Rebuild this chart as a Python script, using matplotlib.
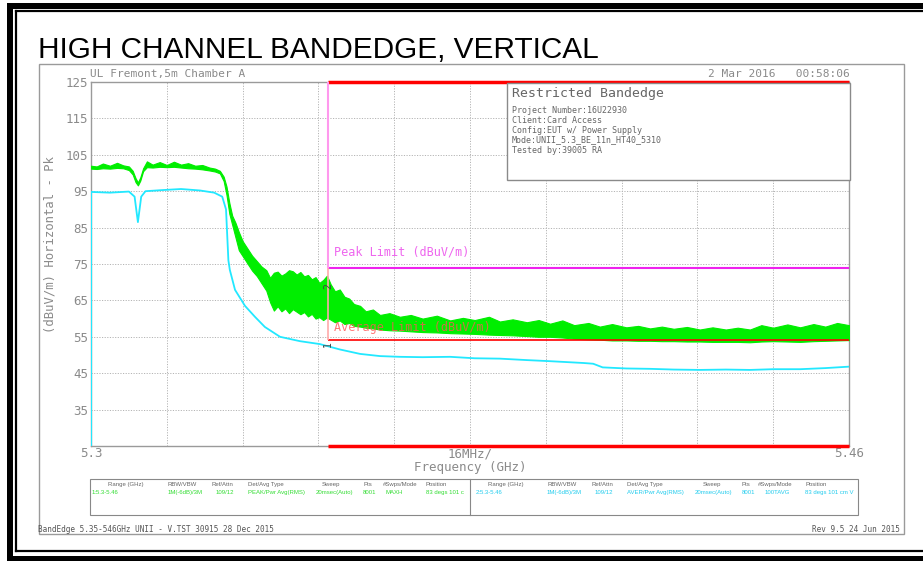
import numpy as np
import matplotlib
matplotlib.use("Agg")
import matplotlib.pyplot as plt
from matplotlib.patches import Rectangle

plt.rcParams['font.family'] = ['DejaVu Sans Mono']

# ---- data ----
# peak trace (green), drawn as a noise band: upper / lower envelope in dBuV/m
freq_pk = [5.3000, 5.3012, 5.3025, 5.3040, 5.3055, 5.3068, 5.3080, 5.3088, 5.3094, 5.3099,
           5.3104, 5.3110, 5.3118, 5.3130, 5.3145, 5.3160, 5.3175, 5.3190, 5.3205, 5.3220,
           5.3235, 5.3250, 5.3262, 5.3272, 5.3280, 5.3286, 5.3292, 5.3298, 5.3305, 5.3312,
           5.3320, 5.3330, 5.3340, 5.3350, 5.3360, 5.3370, 5.3378, 5.3386, 5.3394, 5.3402,
           5.3410, 5.3418, 5.3426, 5.3434, 5.3442, 5.3450, 5.3458, 5.3466, 5.3474, 5.3482,
           5.3490, 5.3498, 5.3506, 5.3515, 5.3525, 5.3535, 5.3545, 5.3555, 5.3568, 5.3580,
           5.3595, 5.3610, 5.3630, 5.3652, 5.3675, 5.3700, 5.3730, 5.3758, 5.3785, 5.3810,
           5.3840, 5.3863, 5.3890, 5.3920, 5.3945, 5.3969, 5.3995, 5.4020, 5.4050, 5.4074,
           5.4100, 5.4130, 5.4155, 5.4180, 5.4205, 5.4230, 5.4258, 5.4285, 5.4312, 5.4340,
           5.4365, 5.4391, 5.4415, 5.4440, 5.4470, 5.4497, 5.4525, 5.4550, 5.4575, 5.4600]
pk_hi = [102.0, 101.8, 102.6, 102.0, 102.8, 102.1, 101.8, 100.6, 98.6, 97.4,
         98.8, 101.3, 103.2, 102.3, 103.0, 102.2, 103.1, 102.3, 102.7, 102.0,
         102.2, 101.5, 101.2, 100.6, 99.0, 96.3, 91.8, 88.3, 86.3, 83.8,
         81.3, 79.3, 77.3, 75.8, 74.3, 73.3, 71.2, 72.6, 72.9, 71.8,
         72.4, 73.3, 73.0, 72.1, 72.8, 71.6, 72.0, 70.8, 71.4, 69.8,
         70.6, 71.8, 69.4, 67.5, 68.0, 66.0, 65.5, 64.0, 63.5, 62.0,
         62.5, 61.0, 61.5, 60.5, 61.0, 60.0, 60.8, 59.5, 60.2, 59.6,
         60.5, 59.2, 59.8, 59.0, 59.6, 58.6, 59.5, 58.2, 58.8, 57.8,
         58.5, 57.6, 58.0, 57.3, 57.8, 57.2, 57.7, 57.0, 57.6, 57.0,
         57.5, 57.0, 58.2, 57.5, 58.4, 57.6, 58.5, 57.8, 58.8, 58.2]
pk_lo = [101.2, 101.1, 101.3, 101.2, 101.4, 101.3, 100.8, 99.6, 97.5, 96.6,
         97.9, 100.5, 101.6, 101.5, 101.7, 101.6, 101.7, 101.5, 101.3, 101.2,
         101.0, 100.7, 100.4, 99.9, 97.8, 94.0, 88.8, 85.8, 82.3, 78.8,
         77.2, 75.2, 73.2, 71.7, 69.7, 67.7, 64.5, 62.2, 63.4, 62.0,
         62.8, 61.5, 62.6, 61.9, 61.2, 61.8, 60.6, 61.3, 60.0, 60.4,
         59.6, 60.3, 59.7, 59.0, 59.5, 58.5, 58.8, 58.0, 57.8, 57.5,
         57.3, 57.0, 56.8, 56.7, 56.5, 56.3, 56.2, 56.0, 55.9, 55.8,
         55.6, 55.5, 55.4, 55.2, 55.0, 55.0, 54.8, 54.5, 54.3, 54.2,
         54.0, 54.0, 53.9, 53.9, 53.8, 53.8, 53.7, 53.7, 53.6, 53.6,
         53.6, 53.5, 53.7, 53.8, 53.7, 53.6, 53.8, 53.9, 54.0, 54.1]

# average trace (cyan)
freq_av = [5.3000, 5.3040, 5.3080, 5.3092, 5.3099, 5.3106, 5.3115, 5.3150, 5.3190, 5.3230,
           5.3260, 5.3277, 5.3285, 5.3290, 5.3293, 5.3304, 5.3325, 5.3346, 5.3367, 5.3399,
           5.3441, 5.3483, 5.3526, 5.3568, 5.3610, 5.3652, 5.3700, 5.3758, 5.3810, 5.3863,
           5.3920, 5.3969, 5.4040, 5.4060, 5.4080, 5.4130, 5.4180, 5.4230, 5.4285, 5.4340,
           5.4391, 5.4440, 5.4497, 5.4550, 5.4600]
av_db = [94.8, 94.6, 94.9, 93.5, 86.5, 93.5, 95.0, 95.3, 95.6, 95.2,
         94.6, 93.5, 90.0, 76.0, 73.4, 67.9, 63.5, 60.5, 57.7, 55.0,
         53.8, 53.0, 51.5, 50.3, 49.7, 49.5, 49.4, 49.5, 49.1, 49.0,
         48.6, 48.3, 47.8, 47.6, 46.6, 46.3, 46.2, 46.0, 45.9, 46.0,
         45.9, 46.1, 46.1, 46.4, 46.8]

band_edge = 5.35      # GHz, restricted band starts here
peak_limit = 74       # dBuV/m
avg_limit = 54        # dBuV/m
f_start, f_stop = 5.3, 5.46
ref_level, bottom_level = 125, 25

xtick_labels = ['5.3', '', '', '', '', '16MHz/', '', '', '', '', '5.46']

table_heads = ['Range (GHz)', 'RBW/VBW', 'Ref/Attn', 'Det/Avg Type', 'Sweep', 'Pts', '#Swps/Mode', 'Position']
table_pk = ['1:5.3-5.46', '1M(-6dB)/3M', '109/12', 'PEAK/Pwr Avg(RMS)', '20msec(Auto)', '8001', 'MAXH', '83 degs 101 c']
table_av = ['2:5.3-5.46', '1M(-6dB)/3M', '109/12', 'AVER/Pwr Avg(RMS)', '20msec(Auto)', '8001', '100TAVG', '83 degs 101 cm V']

info_lines = ['Project Number:16U22930', 'Client:Card Access', 'Config:EUT w/ Power Supply',
              'Mode:UNII_5.3_BE_11n_HT40_5310', 'Tested by:39005 RA']

GREEN = '#00ee00'
CYAN = '#22e8ff'
GRAY = '#8a8a8a'

W, H = 923, 561
fig = plt.figure(figsize=(W / 100, H / 100), dpi=100)

# background layer in pixel coordinates
bg = fig.add_axes([0, 0, 1, 1])
bg.set_xlim(0, W)
bg.set_ylim(H, 0)
bg.axis('off')

# outer black double frame
bg.add_patch(Rectangle((7, 3), W - 7, 6, color='black', lw=0))
bg.add_patch(Rectangle((7, 3), 6, H - 3, color='black', lw=0))
bg.add_patch(Rectangle((7, 556), W - 7, 5, color='black', lw=0))
bg.plot([15.5, W], [11, 11], color='black', lw=1.6)
bg.plot([15.5, 15.5], [11, 551], color='black', lw=1.6)
bg.plot([15.5, W], [551, 551], color='black', lw=1.6)

# gray panel
bg.add_patch(Rectangle((39, 64), 904 - 39, 534 - 64, fill=False, ec='#9a9a9a', lw=1))

bg.text(38, 58, 'HIGH CHANNEL BANDEDGE, VERTICAL', family='Liberation Sans',
        fontsize=21.4, color='black', va='baseline', ha='left')
bg.text(90, 77, 'UL Fremont,5m Chamber A', fontsize=8, color=GRAY, va='baseline')
bg.text(850, 77, '2 Mar 2016   00:58:06', fontsize=8, color=GRAY, va='baseline', ha='right')
bg.text(50, 244, '(dBuV/m) Horizontal - Pk', fontsize=8.8, color=GRAY, rotation=90,
        va='center', ha='center')
bg.text(470, 467, 'Frequency (GHz)', fontsize=9, color=GRAY, va='center', ha='center')

# settings table under the plot
bg.add_patch(Rectangle((90, 479), 858 - 90, 515 - 479, fill=False, ec='#888888', lw=0.8))
bg.plot([470, 470], [479, 515], color='#888888', lw=0.8)
head_pk = [108, 168, 212, 248, 322, 363, 383, 426]
val_pk = [92, 168, 216, 248, 316, 363, 385, 426]
head_av = [488, 547, 591, 627, 703, 742, 758, 805]
val_av = [476, 547, 595, 627, 695, 742, 765, 805]
tfont = dict(family='Liberation Sans', fontsize=4.3, va='center')
for i in range(len(table_heads)):
    bg.text(head_pk[i], 484, table_heads[i], color='#666666', **tfont)
    bg.text(val_pk[i], 492, table_pk[i], color='#33dd33', **tfont)
    bg.text(head_av[i], 484, table_heads[i], color='#666666', **tfont)
    bg.text(val_av[i], 492, table_av[i], color='#22ccee', **tfont)

bg.text(38, 529, 'BandEdge 5.35-546GHz UNII - V.TST 30915 28 Dec 2015', fontsize=5.5,
        color='#555555', va='center')
bg.text(900, 529, 'Rev 9.5 24 Jun 2015', fontsize=5.5, color='#555555', va='center', ha='right')

# ---- the analyzer plot ----
ax = fig.add_axes([91 / W, 1 - 446 / H, (849 - 91) / W, (446 - 82) / H])
ax.set_xlim(f_start, f_stop)
ax.set_ylim(bottom_level, ref_level)
ax.set_xticks(np.linspace(f_start, f_stop, 11))
ax.set_xticklabels(xtick_labels)
ax.set_yticks(range(35, 126, 10))
ax.tick_params(length=0, labelcolor=GRAY, labelsize=9)
ax.tick_params(axis='x', pad=1)
ax.tick_params(axis='y', pad=2)
ax.grid(True, color='#b4b4b4', linestyle=(0, (1.2, 1.5)), lw=0.7)
for s in ax.spines.values():
    s.set_color('#9a9a9a')
    s.set_linewidth(1)

ax.fill_between(freq_pk, pk_lo, pk_hi, color=GREEN, lw=0.8, zorder=3)
ax.plot(freq_av, av_db, color=CYAN, lw=1.3, zorder=4)
ax.vlines(freq_av[0], bottom_level, av_db[0], color=CYAN, lw=1.5, zorder=4)

# restricted band limits
ax.hlines([ref_level, bottom_level], band_edge, f_stop, color='red', lw=2.5, zorder=5, clip_on=False)
ax.hlines(peak_limit, band_edge, f_stop, color='#ee22ee', lw=1.5, zorder=5)
ax.hlines(avg_limit, band_edge, f_stop, color='red', lw=1.2, zorder=5)
ax.vlines(band_edge, peak_limit, ref_level, color='#ff99ee', lw=1.5, zorder=5)
ax.vlines(band_edge, avg_limit, peak_limit, color='#ffaaaa', lw=1.2, zorder=5)
ax.text(band_edge + 0.0012, peak_limit + 2.5, 'Peak Limit (dBuV/m)', fontsize=8.5,
        color='#ee66ee', va='bottom', zorder=6)
ax.text(band_edge + 0.0012, avg_limit + 1.8, 'Average Limit (dBuV/m)', fontsize=8.5,
        color='#ff5555', alpha=0.8, va='bottom', zorder=6)
ax.text(band_edge, 69, '2', rotation=90, fontsize=7, color='#444444', ha='center', va='center', zorder=6)
ax.text(band_edge, 53, '1', rotation=90, fontsize=7, color='#444444', ha='center', va='center', zorder=6)

# info box in the upper right of the plot
ax.add_patch(Rectangle((507, 83), 850 - 507, 180 - 83, transform=bg.transData,
                       fc='white', ec='#8a8a8a', lw=1, zorder=7, clip_on=False))
ax.text(512, 93, 'Restricted Bandedge', transform=bg.transData, fontsize=9.5,
        color='#666666', va='center', zorder=8)
for i, line in enumerate(info_lines):
    ax.text(512, 110 + 10 * i, line, transform=bg.transData, fontsize=6,
            color='#666666', va='center', zorder=8)

fig.savefig('out.png', dpi=100)
